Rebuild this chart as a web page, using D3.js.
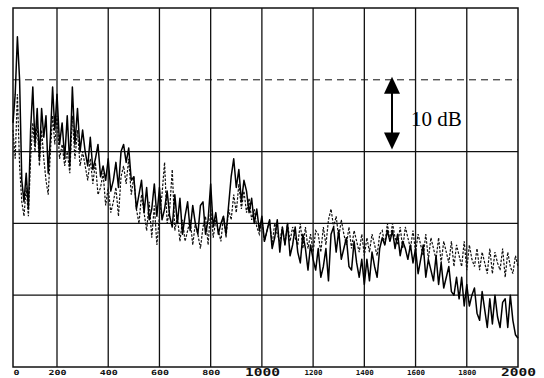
<!DOCTYPE html>
<html>
<head>
<meta charset="utf-8">
<script src="https://cdn.jsdelivr.net/npm/d3@7"></script>
<style>
  html, body { margin: 0; padding: 0; background: #fff; }
  svg { display: block; }
</style>
</head>
<body>
<div id="chart"></div>
<script>
// frequency sampling step (Hz) of the two spectra
const step = 10;

// level in dB (bottom grid line = 0), solid trace, one value every 10 Hz from 0 to 2000 Hz
const solid = [
  34, 38, 46, 40, 26, 23, 27, 22, 33, 39,
  31, 36, 29, 36, 32, 35, 27, 32, 39, 33,
  38, 31, 34, 29, 35, 28, 39, 31, 36, 30,
  33, 30, 28, 32, 27.5, 29, 31, 26.5, 28, 26,
  29, 24.5, 26, 28.5, 25, 30, 31, 28.5, 30.5, 26,
  26.5, 22, 24, 26, 21.5, 25, 20.5, 22, 25.5, 21,
  25, 20.5, 22, 24.5, 21, 19.5, 24, 20, 23.5, 18.5,
  21, 23, 19, 22.5, 20, 18.5, 22.5, 23, 18.5, 20.5,
  25.5, 19.5, 21.5, 18.5, 20, 21, 18.5, 22.5, 26.5, 29,
  25, 27.5, 23, 26, 24.5, 21.5, 23.5, 20, 22, 19,
  21, 17.5, 19, 20.5, 16.5, 18, 20.5, 16, 19.5, 17,
  20, 15.5, 17, 19.5, 16, 14.5, 18.5, 16.5, 13.5, 17,
  15, 13.5, 16.5, 12.5, 14, 16.5, 12, 18.5, 19.5, 16,
  19, 15, 16.5, 18, 14, 13.5, 17.5, 14.5, 12.5, 15,
  11.5, 15, 12, 16, 14, 12.5, 16.5, 18, 17, 19,
  17.5, 19, 16.5, 18.5, 15.5, 17.5, 16.5, 15, 17, 14.5,
  16.5, 13, 15, 17, 12.5, 15, 13.5, 12, 15.5, 11.5,
  14.5, 11, 12.5, 14, 10.5, 10, 12.5, 9.5, 12.5, 8.5,
  11.5, 8.5, 10, 11, 7.5, 6.5, 10.5, 8, 5.5, 9.5,
  6, 10, 7, 5.5, 9, 9.5, 5.5, 10, 6.5, 4.5,
  4
];

// dashed trace, same sampling
const dashed = [
  33, 29, 38, 28, 23, 21, 25, 21, 29, 34,
  30, 34, 28, 33, 29, 26, 24, 30, 35, 31,
  35, 29, 31, 28, 30, 27, 35, 29, 33, 28,
  30, 28, 26, 29, 25.5, 28.5, 24, 25, 27, 22.5,
  25, 21.5, 23, 25, 21, 26.5, 28, 25.5, 29, 24,
  26.5, 22, 20, 24, 21.5, 19, 23, 18, 22.5, 17,
  21, 24, 28.5, 20, 22, 27.5, 19, 21, 17.5, 20.5,
  17.5, 19, 20.5, 17, 20, 18.5, 16.5, 19.5, 21, 17,
  22, 18, 20.5, 19, 17.5, 21, 18, 22, 20.5, 24,
  21.5, 25.5, 22, 24.5, 21.5, 23.5, 20.5, 22, 19.5, 18.5,
  20.5, 17.5, 19, 20.5, 17, 20, 18.5, 17.5, 19.5, 17,
  20, 17.5, 19.5, 18, 17, 20, 16.5, 19.5, 16.5, 18.5,
  16, 19, 18.5, 16, 19.5, 17, 20.5, 22, 19.5, 21,
  18, 20.5, 18.5, 17, 19.5, 16.5, 19, 17.5, 16, 18.5,
  15.5, 18, 16, 18.5, 17, 15.5, 18.5, 19, 17, 20,
  17.5, 20, 18, 17, 19.5, 16.5, 19.5, 18, 16.5, 19,
  16, 18.5, 17, 15.5, 18.5, 15, 18, 16.5, 15, 18,
  14.5, 17.5, 16, 14.5, 17.5, 14, 17, 15.5, 14, 17.5,
  13.5, 17, 15, 14, 16.5, 13.5, 16, 14.5, 13, 16.5,
  13, 16, 14.5, 13.5, 16.5, 12.5, 16, 14, 13, 15.5,
  14
];

const xTicks = [0, 200, 400, 600, 800, 1000, 1200, 1400, 1600, 1800, 2000];
const xTickLabels = ['0', '200', '400', '600', '800', '1000', '1200', '1400', '1600', '1800', '2000'];
const yGrid = [10, 20, 30, 40];
const scaleLabel = '10 dB';

const width = 544, height = 378;

// the scanned axis is slightly uneven: first division narrower than the rest
const x = d3.scaleLinear()
  .domain([0, 200, 2000])
  .range([13, 57, 518]);

const y = d3.scaleLinear()
  .domain([0, 50])
  .range([367, 8]);

const svg = d3.select('#chart')
  .append('svg')
  .attr('width', width)
  .attr('height', height);

// horizontal grid
svg.append('g')
  .selectAll('line')
  .data(yGrid)
  .join('line')
  .attr('x1', x(0)).attr('x2', x(2000))
  .attr('y1', d => y(d)).attr('y2', d => y(d))
  .attr('stroke', '#111')
  .attr('stroke-width', d => d === 40 ? 1 : 1.3)
  .attr('stroke-dasharray', d => d === 40 ? '7,5' : null);

// vertical grid
svg.append('g')
  .selectAll('line')
  .data(xTicks.slice(1, -1))
  .join('line')
  .attr('x1', d => x(d)).attr('x2', d => x(d))
  .attr('y1', y(50)).attr('y2', y(0))
  .attr('stroke', '#111')
  .attr('stroke-width', 1.3);

// frame
svg.append('rect')
  .attr('x', x(0)).attr('y', y(50))
  .attr('width', x(2000) - x(0))
  .attr('height', y(0) - y(50))
  .attr('fill', 'none')
  .attr('stroke', '#111')
  .attr('stroke-width', 1.5);

const line = d3.line()
  .x((d, i) => x(i * step))
  .y(d => y(d));

svg.append('path')
  .datum(dashed)
  .attr('fill', 'none')
  .attr('stroke', '#111')
  .attr('stroke-width', 1.2)
  .attr('stroke-dasharray', '2.5,1.5')
  .attr('d', line);

svg.append('path')
  .datum(solid)
  .attr('fill', 'none')
  .attr('stroke', '#000')
  .attr('stroke-width', 1.5)
  .attr('stroke-linejoin', 'round')
  .attr('d', line);

// x axis labels
const big = d => d === 1000 || d === 2000;
const xAxis = svg.append('g')
  .attr('transform', `translate(0,${y(0)})`)
  .call(d3.axisBottom(x)
    .tickValues(xTicks)
    .tickSize(0)
    .tickPadding(3)
    .tickFormat((d, i) => xTickLabels[i]));
xAxis.select('.domain').remove();
xAxis.selectAll('.tick text')
  .attr('fill', '#111')
  .attr('font-family', '"DejaVu Sans Mono", monospace')
  .attr('font-weight', 'bold')
  .attr('font-size', d => big(d) ? 11 : 7)
  .attr('dy', d => big(d) ? '0.55em' : '0.75em')
  .attr('dx', d => d === 0 ? 3 : 0)
  .attr('textLength', d => d === 0 ? 6 : big(d) ? 35 : 18)
  .attr('lengthAdjust', 'spacingAndGlyphs');

// 10 dB scale arrow
const ax = 392;
const ann = svg.append('g').attr('fill', '#000').attr('stroke', '#000');
ann.append('line')
  .attr('x1', ax).attr('x2', ax)
  .attr('y1', y(40) + 8).attr('y2', y(30) - 8)
  .attr('stroke-width', 2);
ann.append('path')
  .attr('stroke', 'none')
  .attr('d', `M${ax},${y(40) - 3} L${ax - 8},${y(40) + 14} L${ax + 8},${y(40) + 14} Z`);
ann.append('path')
  .attr('stroke', 'none')
  .attr('d', `M${ax},${y(30) - 2} L${ax - 8},${y(30) - 19} L${ax + 8},${y(30) - 19} Z`);
svg.append('text')
  .attr('x', 411)
  .attr('y', (y(40) + y(30)) / 2 + 10)
  .attr('font-family', '"Liberation Serif", serif')
  .attr('font-size', 21)
  .attr('fill', '#000')
  .text(scaleLabel);
</script>
</body>
</html>
